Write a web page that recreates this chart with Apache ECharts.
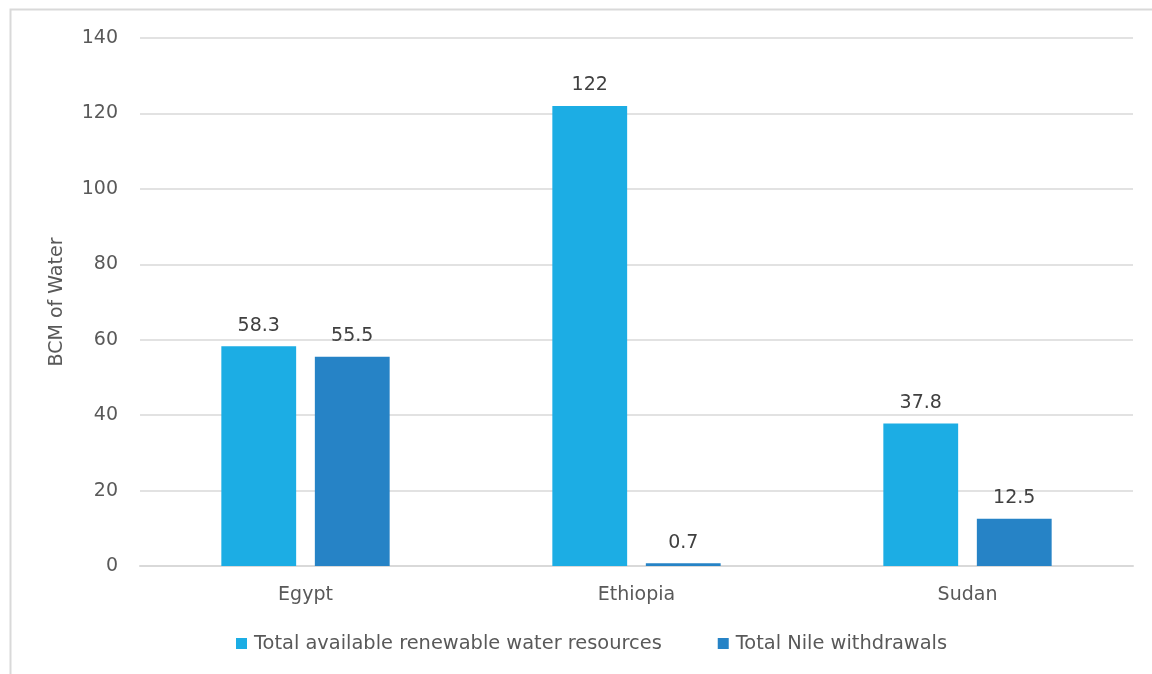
<!DOCTYPE html>
<html>
<head>
<meta charset="utf-8">
<style>
  html, body { margin: 0; padding: 0; background: #ffffff; }
  #chart { width: 1152px; height: 674px; }
</style>
<script src="https://cdn.jsdelivr.net/npm/echarts@6/dist/echarts.min.js"></script>
</head>
<body>
<div id="chart"></div>
<script>
// Nile basin water figures (billion cubic metres)
const countries = ['Egypt', 'Ethiopia', 'Sudan'];
const renewableResources = [58.3, 122, 37.8];
const nileWithdrawals = [55.5, 0.7, 12.5];
const seriesNames = ['Total available renewable water resources', 'Total Nile withdrawals'];

const FONT = 'DejaVu Sans';
const TEXT = '#595959';
const SIZE = 19;

const chart = echarts.init(document.getElementById('chart'), null, { renderer: 'canvas' });

const labelStyle = {
  show: true,
  position: 'top',
  distance: 11,
  color: '#404040',
  fontFamily: FONT,
  fontSize: SIZE
};

chart.setOption({
  animation: false,
  backgroundColor: '#ffffff',
  textStyle: { fontFamily: FONT },
  graphic: [{
    type: 'rect',
    shape: { x: 10.5, y: 9.5, width: 1200, height: 700 },
    style: { fill: 'none', stroke: '#d9d9d9', lineWidth: 2 },
    silent: true
  }],
  grid: { left: 140, right: 19, top: 38, bottom: 108 },
  legend: {
    bottom: 16,
    left: 231,
    itemWidth: 11,
    itemHeight: 11,
    itemGap: 56,
    icon: 'rect',
    textStyle: { color: TEXT, fontFamily: FONT, fontSize: 19.4, padding: [0, 0, 0, 2] },
    data: seriesNames
  },
  xAxis: {
    type: 'category',
    data: countries,
    axisTick: { show: false },
    axisLine: { lineStyle: { color: '#d9d9d9', width: 2 } },
    axisLabel: { color: TEXT, fontFamily: FONT, fontSize: SIZE, margin: 20 }
  },
  yAxis: {
    type: 'value',
    min: 0,
    max: 140,
    interval: 20,
    name: 'BCM of Water',
    nameLocation: 'middle',
    nameGap: 73,
    nameTextStyle: { color: TEXT, fontFamily: FONT, fontSize: SIZE },
    axisLine: { show: false },
    axisTick: { show: false },
    axisLabel: { color: TEXT, fontFamily: FONT, fontSize: SIZE, margin: 22 },
    splitLine: { lineStyle: { color: '#d9d9d9', width: 1.5 } }
  },
  series: [
    {
      name: seriesNames[0],
      type: 'bar',
      data: renewableResources,
      barWidth: '22.6%',
      barGap: '25%',
      itemStyle: { color: '#1CADE4' },
      label: labelStyle
    },
    {
      name: seriesNames[1],
      type: 'bar',
      data: nileWithdrawals,
      barWidth: '22.6%',
      itemStyle: { color: '#2683C6' },
      label: labelStyle
    }
  ]
});
</script>
</body>
</html>
